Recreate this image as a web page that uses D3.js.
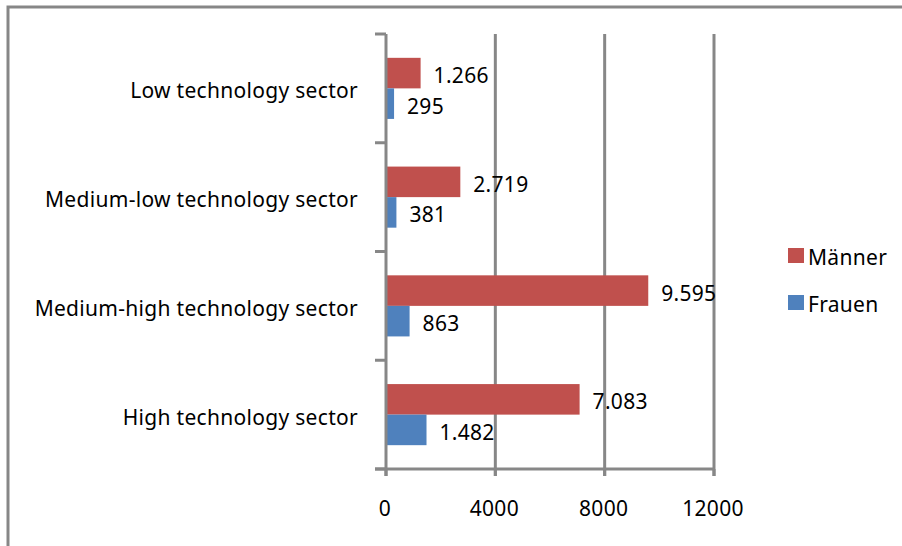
<!DOCTYPE html>
<html>
<head>
<meta charset="utf-8">
<script src="https://cdn.jsdelivr.net/npm/d3@7"></script>
<style>
  body { margin: 0; background: #fff; }
  svg text { font-family: 'Noto Sans', sans-serif; fill: #000; letter-spacing: 0.3px; }
</style>
</head>
<body>
<svg id="chart" width="902" height="546"></svg>
<script>
// chart data
const categories = ['Low technology sector', 'Medium-low technology sector', 'Medium-high technology sector', 'High technology sector']
const seriesNames = ['Männer', 'Frauen']
const maenner = [1266, 2719, 9595, 7083]
const frauen = [295, 381, 863, 1482]
const xTicks = [0, 4000, 8000, 12000]
const colors = { 'Männer': '#C0504D', 'Frauen': '#4F81BD' }

const margin = { left: 386, right: 188, top: 34, bottom: 77 }
const width = 902
const height = 546
const fontSize = 21
const gridColor = '#878787'

const svg = d3.select('#chart')

// outer frame (only left/top visible)
svg.append('rect')
  .attr('x', 8).attr('y', 7)
  .attr('width', 1000).attr('height', 1000)
  .attr('fill', 'none')
  .attr('stroke', gridColor)
  .attr('stroke-width', 3)

const xScale = d3.scaleLinear().domain([0, 12000]).range([margin.left, width - margin.right])
const yScale = d3.scaleBand().domain(categories).range([margin.top, height - margin.bottom])
const ySub = d3.scaleBand().domain(seriesNames).range([0, yScale.bandwidth()]).paddingOuter(0.78)

const values = { 'Männer': maenner, 'Frauen': frauen }
const rows = []
categories.forEach((c, i) => {
  seriesNames.forEach(s => rows.push({ category: c, series: s, value: values[s][i] }))
})

// vertical gridlines
svg.append('g')
  .selectAll('line')
  .data(xTicks.slice(1))
  .enter()
  .append('line')
  .attr('x1', d => xScale(d)).attr('x2', d => xScale(d))
  .attr('y1', margin.top).attr('y2', height - margin.bottom + 7)
  .attr('stroke', gridColor)
  .attr('stroke-width', 3)

// bars
svg.append('g')
  .selectAll('rect')
  .data(rows)
  .enter()
  .append('rect')
  .attr('x', xScale(0))
  .attr('y', d => yScale(d.category) + ySub(d.series))
  .attr('width', d => xScale(d.value) - xScale(0))
  .attr('height', ySub.bandwidth())
  .attr('fill', d => colors[d.series])

// value labels (german number format)
const fmt = d3.formatLocale({ decimal: ',', thousands: '.', grouping: [3], currency: ['', '€'] }).format(',')
svg.append('g')
  .selectAll('text')
  .data(rows)
  .enter()
  .append('text')
  .attr('x', d => xScale(d.value) + 13)
  .attr('y', d => yScale(d.category) + ySub(d.series) + ySub.bandwidth() / 2 + 2)
  .attr('dominant-baseline', 'central')
  .style('font-size', fontSize + 'px')
  .text(d => fmt(d.value))

// y axis line and ticks
const yAxisG = svg.append('g')
yAxisG.append('line')
  .attr('x1', xScale(0)).attr('x2', xScale(0))
  .attr('y1', margin.top).attr('y2', height - margin.bottom + 7)
  .attr('stroke', gridColor).attr('stroke-width', 3)
yAxisG.selectAll('.ytick')
  .data(categories.concat(['end']))
  .enter()
  .append('line')
  .attr('class', 'ytick')
  .attr('x1', xScale(0) - 11).attr('x2', xScale(0))
  .attr('y1', (d, i) => i < categories.length ? yScale(d) : height - margin.bottom)
  .attr('y2', (d, i) => i < categories.length ? yScale(d) : height - margin.bottom)
  .attr('stroke', gridColor).attr('stroke-width', 3)
yAxisG.selectAll('.ylabel')
  .data(categories)
  .enter()
  .append('text')
  .attr('class', 'ylabel')
  .attr('x', 358)
  .attr('y', d => yScale(d) + yScale.bandwidth() / 2 + 2)
  .attr('text-anchor', 'end')
  .attr('dominant-baseline', 'central')
  .style('font-size', fontSize + 'px')
  .text(d => d)

// x axis line, ticks, labels
const xAxisG = svg.append('g')
xAxisG.append('line')
  .attr('x1', xScale(0) - 11).attr('x2', xScale(12000))
  .attr('y1', height - margin.bottom).attr('y2', height - margin.bottom)
  .attr('stroke', gridColor).attr('stroke-width', 3)
xAxisG.selectAll('.xtick')
  .data(xTicks)
  .enter()
  .append('line')
  .attr('class', 'xtick')
  .attr('x1', d => xScale(d)).attr('x2', d => xScale(d))
  .attr('y1', height - margin.bottom).attr('y2', height - margin.bottom + 7)
  .attr('stroke', gridColor).attr('stroke-width', 3)
xAxisG.selectAll('.xlabel')
  .data(xTicks)
  .enter()
  .append('text')
  .attr('class', 'xlabel')
  .attr('x', d => xScale(d) - 1)
  .attr('y', 516)
  .attr('text-anchor', 'middle')
  .style('font-size', fontSize + 'px')
  .text(d => d)

// legend
const legend = svg.append('g')
  .selectAll('g')
  .data(seriesNames)
  .enter()
  .append('g')
  .attr('transform', (d, i) => `translate(788, ${248 + i * 47})`)
legend.append('rect')
  .attr('width', 16).attr('height', 15)
  .attr('fill', d => colors[d])
legend.append('text')
  .attr('x', 20).attr('y', 8.5)
  .attr('dominant-baseline', 'central')
  .style('font-size', fontSize + 'px')
  .text(d => d)
</script>
</body>
</html>
